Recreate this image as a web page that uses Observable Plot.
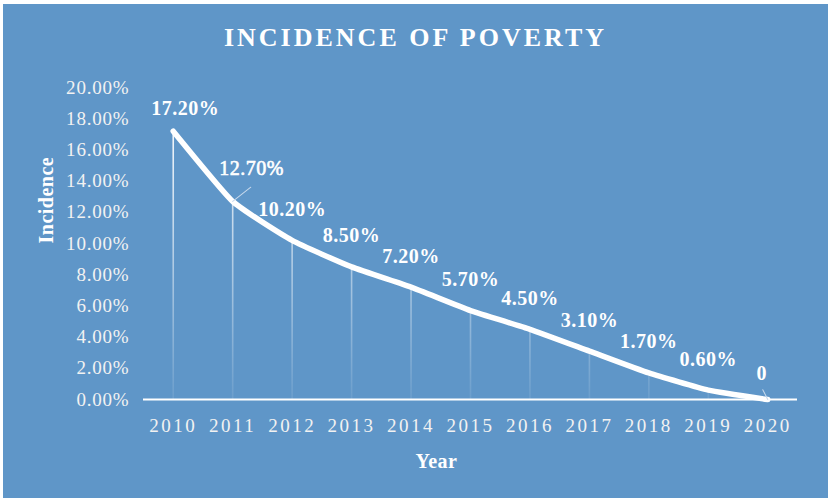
<!DOCTYPE html>
<html>
<head>
<meta charset="utf-8">
<script src="https://cdn.jsdelivr.net/npm/d3@7"></script>
<script src="https://cdn.jsdelivr.net/npm/@observablehq/plot@0.6"></script>
<style>
  html, body { margin: 0; padding: 0; background: #ffffff; width: 828px; height: 498px; overflow: hidden; }
  #card { position: absolute; left: 3px; top: 4px; width: 825px; height: 494px; background: #5f96c8; }
  #title { height: 60px; line-height: 68px; text-align: center; color: #ffffff;
           font-family: "Liberation Serif", serif; font-weight: bold; font-size: 26px; letter-spacing: 3px; }
  #chart svg g[aria-label="x-axis tick label"] text { letter-spacing: 2.5px; }
  #chart svg g[aria-label="y-axis tick label"] text { letter-spacing: 0.8px; }
  #chart svg g[aria-label="text"] text { letter-spacing: 0.5px; }
</style>
</head>
<body>
<div id="card">
  <div id="title">INCIDENCE OF POVERTY</div>
  <div id="chart"></div>
</div>
<script>
const years = [2010, 2011, 2012, 2013, 2014, 2015, 2016, 2017, 2018, 2019, 2020];
const incidence = [17.2, 12.7, 10.2, 8.5, 7.2, 5.7, 4.5, 3.1, 1.7, 0.6, 0];
const yTicks = [0, 2, 4, 6, 8, 10, 12, 14, 16, 18, 20];
const xTitle = "Year";
const yTitle = "Incidence";

const data = years.map((year, i) => ({year, value: incidence[i], label: incidence[i] === 0 ? "0" : incidence[i].toFixed(2) + "%"}));

const defs = () => {
  const d = d3.create("svg:defs");
  const g = d.append("linearGradient").attr("id", "dropGrad")
    .attr("gradientUnits", "userSpaceOnUse").attr("x1", 0).attr("x2", 0).attr("y1", 60).attr("y2", 335);
  g.append("stop").attr("offset", 0).attr("stop-color", "#ffffff").attr("stop-opacity", 0.95);
  g.append("stop").attr("offset", 1).attr("stop-color", "#ffffff").attr("stop-opacity", 0.08);
  return d.node();
};

const leader = { draw(context, l) { context.moveTo(0, 0); context.lineTo(0, -l); } };

const labelStyle = {x: "year", y: "value", text: "label", fill: "#ffffff", fontWeight: "bold", fontSize: 20};

const chart = Plot.plot({
  width: 825,
  height: 434,
  marginTop: 23,
  marginBottom: 99,
  marginLeft: 140,
  marginRight: 31,
  style: {fontFamily: "Liberation Serif, serif", background: "transparent", color: "#f2f2f2", overflow: "visible"},
  x: {domain: [2009.5, 2020.5]},
  y: {domain: [0, 20]},
  marks: [
    defs,
    Plot.ruleX(data, {x: "year", y1: 0, y2: "value", stroke: "url(#dropGrad)", strokeWidth: 1.6}),
    Plot.ruleY([0], {stroke: "#ffffff", strokeWidth: 2.2}),
    Plot.line(data, {x: "year", y: "value", stroke: "#ffffff", strokeWidth: 5.5, curve: "cardinal", tension: 0.55, strokeLinecap: "round", strokeLinejoin: "round"}),
    Plot.vector(data, {filter: (d, i) => i === 1, x: "year", y: "value", anchor: "start", length: 23, rotate: 52, shape: leader, stroke: "#c8d9ec", strokeWidth: 1}),
    Plot.vector(data, {filter: (d, i) => i === 10, x: "year", y: "value", anchor: "start", length: 11, rotate: -27, shape: leader, stroke: "#c8d9ec", strokeWidth: 1}),
    Plot.axisY({ticks: yTicks, tickFormat: d => d.toFixed(2) + "%", tickSize: 0, tickPadding: 14, fontSize: 19, label: null}),
    Plot.axisX({ticks: years, tickFormat: d => String(d), tickSize: 0, tickPadding: 19, fontSize: 19, label: null}),
    Plot.text(data, {...labelStyle, filter: (d, i) => i === 0, dx: 12, dy: -23}),
    Plot.text(data, {...labelStyle, filter: (d, i) => i === 1, fontWeight: "normal", fill: "#ffffff", stroke: "#ffffff", strokeWidth: 0.6, dx: 19, dy: -33}),
    Plot.text(data, {...labelStyle, filter: (d, i) => i >= 2 && i <= 9, dx: 0, dy: -31}),
    Plot.text(data, {...labelStyle, filter: (d, i) => i === 10, dx: -6, dy: -26}),
    Plot.text([xTitle], {text: d => d, frameAnchor: "bottom", dx: -34, dy: 68, fill: "#ffffff", fontWeight: "bold", fontSize: 20}),
    Plot.text([yTitle], {text: d => d, frameAnchor: "left", rotate: -90, dx: -97, dy: 0, fill: "#ffffff", fontWeight: "bold", fontSize: 20})
  ]
});
document.getElementById("chart").appendChild(chart);
</script>
</body>
</html>
